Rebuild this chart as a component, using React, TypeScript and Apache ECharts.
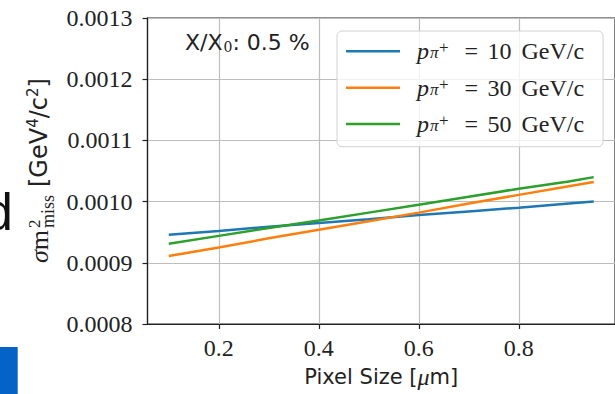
import React, { useEffect, useRef } from 'react';
import * as echarts from 'echarts';

// Pixel size [µm]
const pixelSize = [0.1, 0.2, 0.3, 0.4, 0.5, 0.6, 0.7, 0.8, 0.9, 0.95];
// sigma m^2_miss [GeV^4/c^2]
const sigma10 = [0.000946, 0.000952, 0.000959, 0.000965, 0.000971, 0.000978, 0.000984, 0.00099, 0.000997, 0.001];
const sigma30 = [0.000911, 0.000925, 0.00094, 0.000954, 0.000968, 0.000982, 0.000997, 0.001011, 0.001025, 0.001032];
const sigma50 = [0.000931, 0.000944, 0.000957, 0.000969, 0.000982, 0.000995, 0.001008, 0.001021, 0.001033, 0.00104];
const momenta = ['10', '30', '50'];
const seriesNames = ['pπ+ = 10 GeV/c', 'pπ+ = 30 GeV/c', 'pπ+ = 50 GeV/c'];
const colors = ['#1f77b4', '#ff7f0e', '#2ca02c'];
const xTicks = [0.2, 0.4, 0.6, 0.8];
const yMin = 0.0008;
const yMax = 0.0013;
const yStep = 0.0001;
const xMin = 0.0575;
const xMax = 0.9925;
const annotation = 'X/X{sub|0}: 0.5 %';

export default function App() {
  const ref = useRef<HTMLDivElement>(null);
  useEffect(() => {
    if (!ref.current) return;
    const chart = echarts.init(ref.current, null, { renderer: 'svg' });
    const allY = [sigma10, sigma30, sigma50];
    const serif = 'Liberation Serif';
    const sans = 'DejaVu Sans';
    const ink = '#222';
    chart.setOption({
      animation: false,
      backgroundColor: '#fff',
      grid: {
        left: 147.5,
        top: 18,
        right: -6.5,
        bottom: 66,
        show: true,
        borderColor: ink,
        borderWidth: 1.2,
        backgroundColor: 'transparent',
      },
      xAxis: {
        type: 'value',
        min: xMin,
        max: xMax,
        splitNumber: 5,
        axisLine: { show: true, lineStyle: { color: ink, width: 1.2 } },
        axisTick: { show: true, length: 5, lineStyle: { color: ink, width: 1.2 } },
        splitLine: { show: true, lineStyle: { color: '#bdbdbd', width: 1.2 } },
        axisLabel: {
          showMinLabel: false,
          showMaxLabel: false,
          margin: 12,
          fontFamily: serif,
          fontSize: 24,
          color: ink,
          formatter: (v: number) =>
            xTicks.some((t) => Math.abs(t - v) < 1e-6) ? v.toFixed(1) : '',
        },
        name: 'Pixel Size [{mu|μ}m]',
        nameLocation: 'middle',
        nameGap: 41,
        nameTextStyle: {
          fontFamily: sans,
          fontSize: 21,
          color: ink,
          rich: {
            mu: { fontFamily: serif, fontStyle: 'italic', fontSize: 24, color: ink },
          },
        },
      },
      yAxis: {
        type: 'value',
        min: yMin,
        max: yMax,
        interval: yStep,
        axisLine: { show: true, lineStyle: { color: ink, width: 1.2 } },
        axisTick: { show: true, length: 5, lineStyle: { color: ink, width: 1.2 } },
        splitLine: { show: true, lineStyle: { color: '#bdbdbd', width: 1.2 } },
        axisLabel: {
          margin: 15,
          fontFamily: serif,
          fontSize: 24,
          color: ink,
          formatter: (v: number) => v.toFixed(4),
        },
      },
      legend: {
        orient: 'vertical',
        left: 337,
        top: 31,
        padding: [8.3, 10, 10.6, 9],
        itemGap: 12.4,
        itemWidth: 54,
        itemHeight: 2.5,
        icon: 'rect',
        backgroundColor: 'rgba(255,255,255,0.8)',
        borderColor: '#d2d2d2',
        borderWidth: 1,
        borderRadius: 5,
        data: seriesNames,
        formatter: (name: string) => {
          const i = seriesNames.indexOf(name);
          return `{p|p}{pi|π}{sup|+}{eq|=}{num|${momenta[i]}}{u|GeV/c}`;
        },
        textStyle: {
          color: ink,
          fontFamily: serif,
          fontSize: 24,
          rich: {
            p: { fontFamily: serif, fontStyle: 'italic', fontSize: 24, lineHeight: 26, padding: [0, 0, 0, 12], color: ink },
            pi: { fontFamily: serif, fontStyle: 'italic', fontSize: 17, lineHeight: 17, padding: [3, 0, 0, 1], color: ink },
            sup: { fontFamily: serif, fontSize: 17, lineHeight: 15, padding: [0, 0, 7, 0.5], color: ink },
            eq: { fontFamily: serif, fontSize: 24, lineHeight: 26, padding: [0, 9.3, 0, 16], color: ink },
            num: { fontFamily: serif, fontSize: 24, lineHeight: 26, padding: [0, 10, 0, 0], color: ink },
            u: { fontFamily: serif, fontSize: 24, lineHeight: 26, padding: [0, 9, 0, 0], color: ink },
          },
        },
      },
      series: seriesNames.map((name, i) => ({
        name,
        type: 'line',
        data: pixelSize.map((x, j) => [x, allY[i][j]]),
        symbol: 'none',
        showSymbol: false,
        lineStyle: { color: colors[i], width: 2.5 },
        itemStyle: { color: colors[i] },
        z: 3 + i,
      })),
      graphic: [
        {
          type: 'text',
          x: 185,
          y: 42,
          z: 10,
          style: {
            text: annotation,
            fontFamily: sans,
            fontSize: 22,
            fill: ink,
            verticalAlign: 'middle',
            rich: {
              sub: { fontFamily: 'DejaVu Serif', fontSize: 14, padding: [10, 0, 0, 1], fill: ink },
            },
          },
        },
        {
          type: 'group',
          x: 47.5,
          y: 265,
          rotation: Math.PI / 2,
          children: [
            {
              type: 'text',
              x: 2,
              y: -8.5,
              style: {
                text: '{it|σ}m',
                fontFamily: serif,
                fontSize: 26,
                fill: ink,
                verticalAlign: 'middle',
                rich: { it: { fontFamily: serif, fontStyle: 'italic', fontSize: 26, fill: ink } },
              },
            },
            {
              type: 'text',
              x: 37,
              y: -13,
              style: { text: '2', fontFamily: serif, fontSize: 17, fill: ink, verticalAlign: 'middle' },
            },
            {
              type: 'text',
              x: 37,
              y: 0,
              style: { text: 'miss', fontFamily: serif, fontSize: 18, fill: ink, verticalAlign: 'middle' },
            },
            {
              type: 'text',
              x: 78,
              y: -8.5,
              style: {
                text: '[GeV{s|4}/c{s|2}]',
                fontFamily: sans,
                fontSize: 24,
                fill: ink,
                verticalAlign: 'middle',
                rich: { s: { fontFamily: sans, fontSize: 15, padding: [0, 0, 12, 0], fill: ink } },
              },
            },
          ],
        },
        {
          type: 'text',
          x: -15.5,
          y: 212,
          style: { text: 'd', fontFamily: 'Liberation Sans', fontSize: 51, fill: '#111', verticalAlign: 'middle' },
        },
        {
          type: 'rect',
          shape: { x: 0, y: 347, width: 17.7, height: 47 },
          style: { fill: '#0563c8' },
        },
      ],
    });
    return () => chart.dispose();
  }, []);
  return (
    <div
      ref={ref}
      style={{ position: 'absolute', left: 0, top: 0, width: 615, height: 394 }}
    />
  );
}
